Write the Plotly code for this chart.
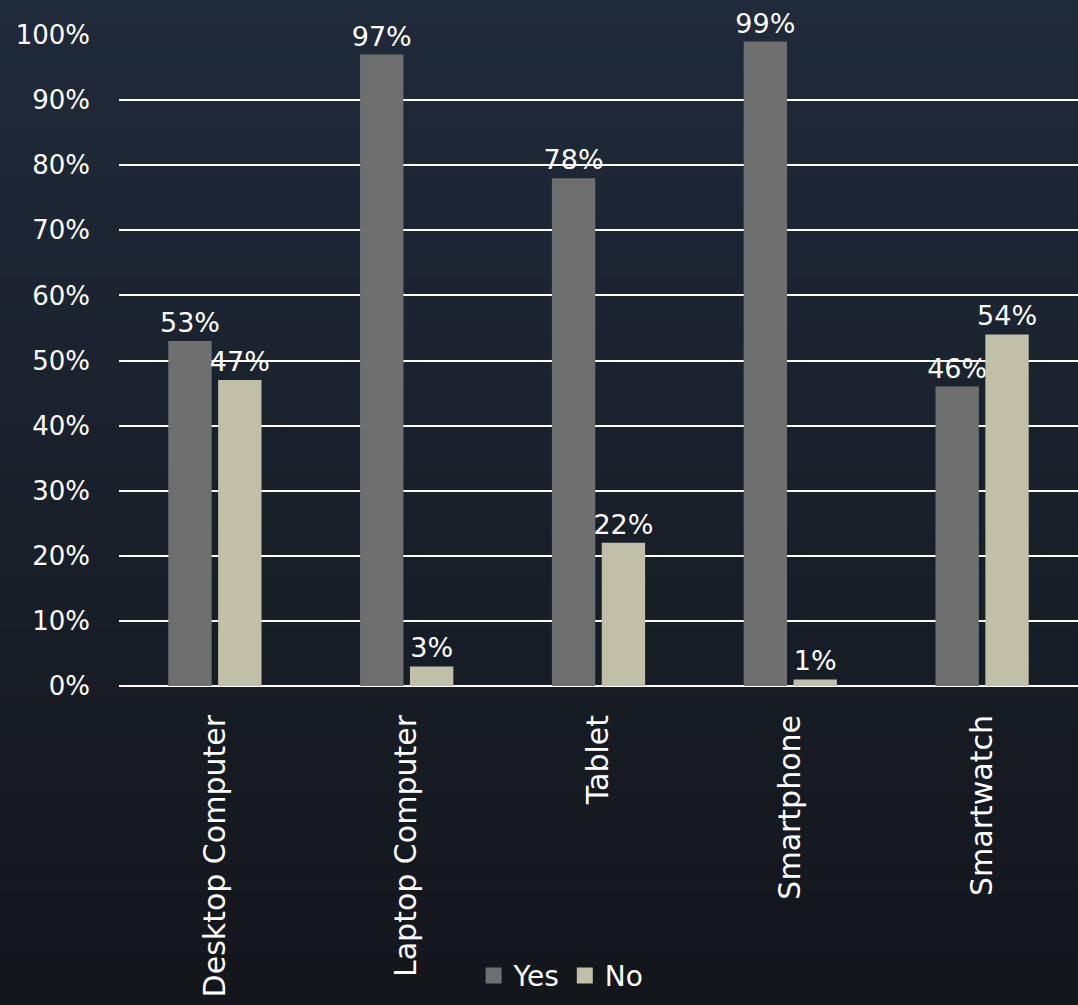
import plotly.graph_objects as go

categories = ["Desktop Computer", "Laptop Computer", "Tablet", "Smartphone", "Smartwatch"]
yes_values = [53, 97, 78, 99, 46]
no_values = [47, 3, 22, 1, 54]
y_ticks = list(range(0, 101, 10))
y_tick_labels = [f"{v}%" for v in y_ticks]

W, H = 1078, 1005
ML, MR, MT, MB = 119, 0, 35, 319
font_family = "DejaVu Sans, sans-serif"
YES_C, NO_C = "#6f6f6f", "#c0bfa7"

fig = go.Figure()
fig.add_trace(go.Bar(
    name="Yes", x=categories, y=yes_values, marker_color=YES_C, marker_line_width=0,
    text=[f"{v}%" for v in yes_values], textposition="outside", showlegend=False,
    constraintext="none",
    textfont=dict(color="white", size=27, family=font_family), cliponaxis=False,
))
fig.add_trace(go.Bar(
    name="No", x=categories, y=no_values, marker_color=NO_C, marker_line_width=0,
    text=[f"{v}%" for v in no_values], textposition="outside", showlegend=False,
    constraintext="none",
    textfont=dict(color="white", size=27, family=font_family), cliponaxis=False,
))
# legend entries with larger square symbols
for name, col in [("Yes", YES_C), ("No", NO_C)]:
    fig.add_trace(go.Scatter(x=[None], y=[None], mode="markers", name=name,
                             marker=dict(symbol="square", size=18, color=col)))

# gradient background via strips
pw, ph = W - ML - MR, H - MT - MB
top = (31, 42, 58)
bot = (19, 22, 27)
n = 80
shapes = []
y0p = -MB / ph
y1p = 1 + MT / ph
x0p = -ML / pw
x1p = 1 + MR / pw
for i in range(n):
    t = i / (n - 1)
    c = tuple(round(top[k] + (bot[k] - top[k]) * t) for k in range(3))
    ya = y1p - (y1p - y0p) * i / n
    yb = y1p - (y1p - y0p) * (i + 1) / n
    shapes.append(dict(type="rect", xref="paper", yref="paper", x0=x0p, x1=x1p,
                       y0=yb - 0.002, y1=ya, fillcolor=f"rgb{c}", line_width=0, layer="below"))

fig.update_layout(
    width=W, height=H,
    margin=dict(l=ML, r=MR, t=MT, b=MB),
    paper_bgcolor="rgb(19,22,27)",
    plot_bgcolor="rgba(0,0,0,0)",
    shapes=shapes,
    barmode="group",
    bargap=0.48,
    bargroupgap=0.13,
    font=dict(family=font_family, color="white", size=26),
    showlegend=True,
    legend=dict(orientation="h", x=0.461, xanchor="center", y=-0.445, yanchor="middle",
                font=dict(size=28, color="white"), bgcolor="rgba(0,0,0,0)",
                itemwidth=30, tracegroupgap=0),
    xaxis=dict(tickangle=-90, tickfont=dict(size=30, color="white"), showgrid=False,
               showline=False, ticklabelstandoff=22),
    yaxis=dict(range=[0, 100], tickvals=y_ticks, ticktext=y_tick_labels,
               showgrid=True, gridcolor="white", gridwidth=2,
               zeroline=True, zerolinecolor="white", zerolinewidth=2,
               tickfont=dict(size=26, color="white"), ticklabelstandoff=28),
)

fig.write_html("out.html", config={"displayModeBar": False},
               post_script="document.body.style.margin='0';")
